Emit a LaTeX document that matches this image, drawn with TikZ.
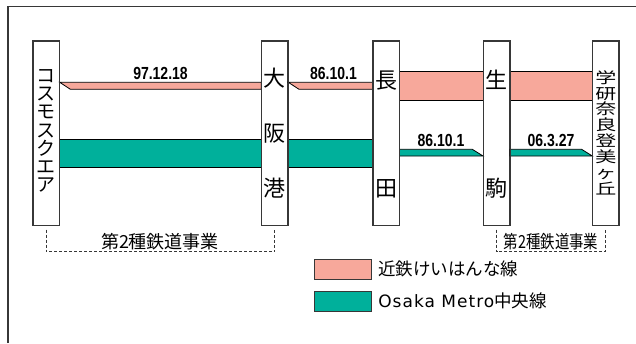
\documentclass[tikz,border=0pt]{standalone}
\usepackage{fontspec}
\usepackage{xcolor}
\usepackage{tikz}
\setmainfont{Noto Sans CJK JP}
\newfontfamily\datefont{Liberation Sans}[FakeStretch=0.8]
\newfontfamily\latinfont{DejaVu Sans}[LetterSpace=6]
\usetikzlibrary{positioning,calc}
\definecolor{kintetsu}{RGB}{247,168,155}
\definecolor{chuo}{RGB}{0,176,155}
\definecolor{edge}{RGB}{55,55,55}
\tikzset{
    station/.style={draw=edge, line width=1pt, fill=white, minimum width=26pt, minimum height=184pt, inner sep=0pt},
    stname/.style={align=center, inner sep=0pt},
    track/.style={draw=black, line width=0.8pt},
    datelabel/.style={font=\datefont\bfseries\fontsize{17.5}{18}\selectfont, anchor=base, inner sep=0pt},
    bracket/.style={draw=edge, line width=0.9pt, dash pattern=on 3pt off 2pt},
    note/.style={font=\fontsize{18}{18}\selectfont, inner sep=0pt},
    legendbox/.style={draw=edge, line width=0.9pt, minimum width=57pt, minimum height=20pt, inner sep=0pt},
    legendtext/.style={font=\fontsize{17.5}{18}\selectfont, inner sep=0pt, anchor=west}
}

\begin{document}
\begin{tikzpicture}[x=1pt, y=-1pt]
    \useasboundingbox (0,0) rectangle (636,343);
    \draw[edge, line width=1.3pt] (8,343) -- (8,6.5) -- (636,6.5);

    % stations
    \node[station] (cosmo) at (46.2,133) {};
    \node[station] (osakako) at (274.8,133) {};
    \node[station] (nagata) at (386,133) {};
    \node[station] (ikoma) at (496.5,133) {};
    \node[station] (gakken) at (605.8,133) {};

    % Kintetsu Keihanna line
    \draw[track, fill=kintetsu] (cosmo.east |- 0,82.3) -- (osakako.west |- 0,82.3) -- (osakako.west |- 0,89.3) -- ($(cosmo.east |- 0,89.3)+(10.7,0)$) -- cycle;
    \draw[track, fill=kintetsu] (osakako.east |- 0,82.3) -- (nagata.west |- 0,82.3) -- (nagata.west |- 0,89.3) -- ($(osakako.east |- 0,89.3)+(10.7,0)$) -- cycle;
    \draw[track, fill=kintetsu] (nagata.east |- 0,71.7) rectangle (ikoma.west |- 0,100);
    \draw[track, fill=kintetsu] (ikoma.east |- 0,71.7) rectangle (gakken.west |- 0,100);

    % Chuo line
    \draw[track, fill=chuo] (cosmo.east |- 0,139) rectangle (osakako.west |- 0,167.7);
    \draw[track, fill=chuo] (osakako.east |- 0,139) rectangle (nagata.west |- 0,167.7);
    \draw[track, fill=chuo] (nagata.east |- 0,149.3) -- ($(ikoma.west |- 0,149.3)+(-10.7,0)$) -- (ikoma.west |- 0,156) -- (nagata.east |- 0,156) -- cycle;
    \draw[track, fill=chuo] (ikoma.east |- 0,149.3) -- ($(gakken.west |- 0,149.3)+(-10.7,0)$) -- (gakken.west |- 0,156) -- (ikoma.east |- 0,156) -- cycle;

    % redraw station outlines on top
    \draw[edge, line width=1pt] (cosmo.south west) rectangle (cosmo.north east);
    \draw[edge, line width=1pt] (osakako.south west) rectangle (osakako.north east);
    \draw[edge, line width=1pt] (nagata.south west) rectangle (nagata.north east);
    \draw[edge, line width=1pt] (ikoma.south west) rectangle (ikoma.north east);
    \draw[edge, line width=1pt] (gakken.south west) rectangle (gakken.north east);

    % station names
    \node[stname, font=\fontsize{19}{18.2}\selectfont] (cosmo name) at (46.2,131) {コ\\ス\\モ\\ス\\ク\\エ\\ア};
    \node[stname, font=\fontsize{22}{55}\selectfont] (osakako name) at (274.8,133) {大\\阪\\港};
    \node[stname, font=\fontsize{22}{108}\selectfont] (nagata name) at (386,134) {長\\田};
    \node[stname, font=\fontsize{22}{108}\selectfont] (ikoma name) at (496.5,134) {生\\駒};
    \node[stname, font=\fontsize{21}{22}\selectfont, yscale=0.72, transform shape] (gakken name) at (605.8,132.5) {学\\研\\奈\\良\\登\\美\\ヶ\\丘};

    % opening dates
    \node[datelabel] (d1) at (160.5,79.3) {97.12.18};
    \node[datelabel] (d2) at (333.5,79.3) {86.10.1};
    \node[datelabel] (d3) at (441,146.7) {86.10.1};
    \node[datelabel] (d4) at (551,146.7) {06.3.27};

    % type-2 railway sections
    \draw[bracket] ([yshift=-4pt]cosmo.south) -- (cosmo.south |- 0,251.7) -- (osakako.south |- 0,251.7) -- ([yshift=-4pt]osakako.south);
    \draw[bracket] ([yshift=-4pt]ikoma.south) -- (ikoma.south |- 0,251.7) -- (gakken.south |- 0,251.7) -- ([yshift=-4pt]gakken.south);
    \node[note] (sec1) at (160,241.5) {第2種鉄道事業};
    \node[note, xscale=0.8, transform shape] (sec2) at (551,241.5) {第2種鉄道事業};

    % legend
    \node[legendbox, fill=kintetsu] (kbox) at (342.5,269.3) {};
    \node[legendbox, fill=chuo] (cbox) at (342.5,301.2) {};
    \node[legendtext, right=6.7pt of kbox] (ktext) {近鉄けいはんな線};
    \node[legendtext, right=6.7pt of cbox] (ctext) {{\latinfont\fontsize{17}{18}\selectfont Osaka Metro}中央線};
\end{tikzpicture}
\end{document}
